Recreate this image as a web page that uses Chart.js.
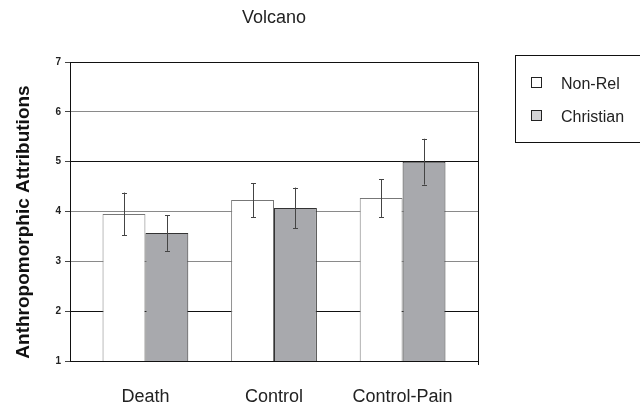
<!DOCTYPE html>
<html>
<head>
<meta charset="utf-8">
<script src="https://cdn.jsdelivr.net/npm/chart.js@4/dist/chart.umd.min.js"></script>
<style>
    body { margin: 0; background: #fff; }
    .wrap { width: 640px; height: 409px; }
</style>
</head>
<body>
<div class="wrap"><canvas id="myChart" width="640" height="409"></canvas></div>
<script>
const categories = ["Death", "Control", "Control-Pain"];
const seriesNames = ["Non-Rel", "Christian"];
const nonRelMeans = [3.95, 4.23, 4.27];
const nonRelErr = [0.43, 0.34, 0.38];
const christianMeans = [3.57, 4.07, 5.0];
const christianErr = [0.36, 0.41, 0.46];
const yTicks = [1, 2, 3, 4, 5, 6, 7];
const chartTitle = "Volcano";
const yTitle = "Anthropomorphic Attributions";

const FONT = "'Liberation Sans', Arial, sans-serif";

// gridline colour for each y value (black / gray like the original)
function gridColor(v) {
    if (v === 7 || v === 5 || v === 2) return "#111";
    return "#8a8a8a";
}

function toPoints(values, errs) {
    return values.map((v, i) => ({ x: i, y: v, err: errs[i] }));
}

// error bars, frame, titles and legend box
const extras = {
    id: "extras",
    afterDatasetsDraw(chart) {
        let ctx = chart.ctx;
        let area = chart.chartArea;
        let yScale = chart.scales.y;

        ctx.save();
        chart.data.datasets.forEach((ds, di) => {
            let meta = chart.getDatasetMeta(di);
            meta.data.forEach((bar, i) => {
                let p = ds.data[i];
                let yTop = yScale.getPixelForValue(p.y + p.err);
                let yBot = yScale.getPixelForValue(p.y - p.err);
                let x = Math.round(bar.x) + 0.5;
                ctx.strokeStyle = "#444";
                ctx.lineWidth = 1;
                ctx.beginPath();
                ctx.moveTo(x, yTop);
                ctx.lineTo(x, yBot);
                ctx.moveTo(x - 2.5, Math.round(yTop) + 0.5);
                ctx.lineTo(x + 2.5, Math.round(yTop) + 0.5);
                ctx.moveTo(x - 2.5, Math.round(yBot) + 0.5);
                ctx.lineTo(x + 2.5, Math.round(yBot) + 0.5);
                ctx.stroke();
            });
        });

        // right edge of plot
        ctx.strokeStyle = "#111";
        ctx.beginPath();
        ctx.moveTo(Math.round(area.right) + 0.5, area.top);
        ctx.lineTo(Math.round(area.right) + 0.5, area.bottom + 4);
        ctx.stroke();

        // title
        ctx.fillStyle = "#222";
        ctx.font = "18px " + FONT;
        ctx.textAlign = "center";
        ctx.textBaseline = "middle";
        ctx.fillText(chartTitle, (area.left + area.right) / 2, 18);

        // y axis title
        ctx.save();
        ctx.translate(24, 222);
        ctx.rotate(-Math.PI / 2);
        ctx.fillStyle = "#111";
        ctx.font = "bold 19px " + FONT;
        ctx.fillText(yTitle, 0, 0);
        ctx.restore();

        // legend
        ctx.strokeStyle = "#111";
        ctx.strokeRect(515.5, 55.5, 140, 87);
        let rowsY = [83, 116];
        chart.data.datasets.forEach((ds, di) => {
            ctx.fillStyle = di === 0 ? "#fff" : "#d4d4d6";
            ctx.fillRect(531.5, rowsY[di] - 5.5, 10, 10);
            ctx.strokeStyle = "#222";
            ctx.strokeRect(531.5, rowsY[di] - 5.5, 10, 10);
            ctx.fillStyle = "#222";
            ctx.textAlign = "left";
            ctx.font = "16px " + FONT;
            ctx.fillText(ds.label, 561, rowsY[di] + 2);
        });
        ctx.restore();
    }
};

new Chart(document.getElementById("myChart"), {
    type: "bar",
    data: {
        datasets: [
            {
                label: seriesNames[0],
                data: toPoints(nonRelMeans, nonRelErr),
                backgroundColor: "#ffffff",
                borderColor: "#777",
                borderWidth: 1,
                barPercentage: 1,
                categoryPercentage: 0.667,
            },
            {
                label: seriesNames[1],
                data: toPoints(christianMeans, christianErr),
                backgroundColor: "#a8a9ad",
                borderColor: "#333",
                borderWidth: 1,
                barPercentage: 1,
                categoryPercentage: 0.667,
            },
        ],
    },
    options: {
        responsive: false,
        animation: false,
        layout: { padding: { top: 62, right: 162, bottom: 0, left: 0 } },
        plugins: {
            legend: { display: false },
            tooltip: { enabled: false },
        },
        scales: {
            x: {
                type: "linear",
                min: -0.5865,
                max: 2.5865,
                offset: false,
                afterFit(scale) { scale.height = 48; },
                grid: { display: false, drawTicks: false, offset: false },
                border: { display: true, color: "#111", width: 1 },
                ticks: {
                    stepSize: 1,
                    includeBounds: false,
                    padding: 25,
                    color: "#222",
                    font: { family: FONT, size: 18 },
                    callback: (v) => categories[v] !== undefined ? categories[v] : "",
                },
            },
            y: {
                min: 1,
                max: 7,
                afterFit(scale) { scale.width = 70; },
                afterBuildTicks(scale) { scale.ticks = yTicks.map(v => ({ value: v })); },
                grid: {
                    color: (c) => gridColor(c.tick.value),
                    tickColor: "#444",
                    tickLength: 5,
                },
                border: { display: true, color: "#111", width: 1 },
                ticks: {
                    padding: 4,
                    color: "#222",
                    font: { family: FONT, size: 10, weight: "bold" },
                },
            },
        },
    },
    plugins: [extras],
});
</script>
</body>
</html>
